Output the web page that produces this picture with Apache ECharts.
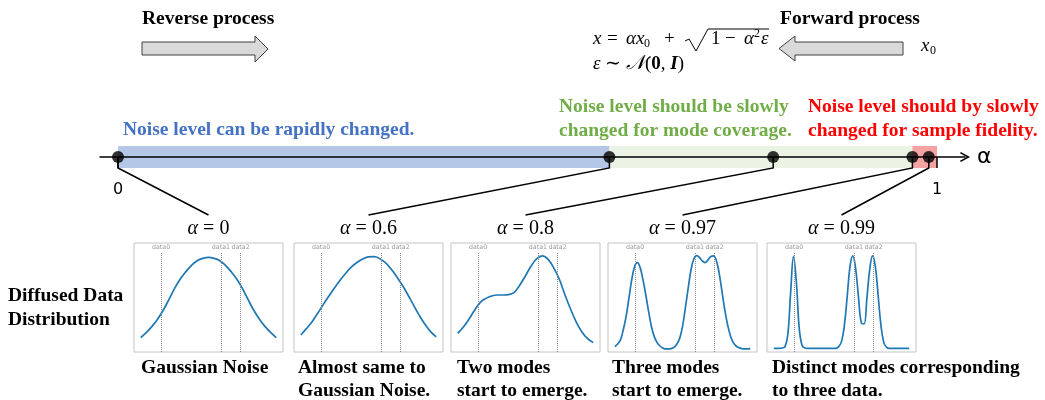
<!DOCTYPE html>
<html><head><meta charset="utf-8">
<script src="https://cdn.jsdelivr.net/npm/echarts@6/dist/echarts.min.js"></script>
<style>html,body{margin:0;padding:0;background:#fff}#c{width:1045px;height:400px}</style>
</head><body><div id="c"></div>
<script>
// ---------- data ----------
const alphas = [0, 0.6, 0.8, 0.97, 0.99];
const alphaTitles = ['0', '0.6', '0.8', '0.97', '0.99'];
const axisEnds = [0, 1];
const bandRanges = [[0, 0.6], [0.6, 0.97], [0.97, 1]];
const dataPoints = [-2.1, 0.55, 1.42];
const dataNames = ['data0', 'data1', 'data2'];
const xCoarse = [-3,-2.75,-2.5,-2.25,-2,-1.75,-1.5,-1.25,-1,-0.75,-0.5,-0.25,0,0.25,0.5,0.75,1,1.25,1.5,1.75,2,2.25,2.5,2.75,3];
const xFine = [-3,-2.875,-2.75,-2.625,-2.5,-2.375,-2.25,-2.125,-2,-1.875,-1.75,-1.625,-1.5,-1.375,-1.25,-1.125,-1,-0.875,-0.75,-0.625,-0.5,-0.375,-0.25,-0.125,0,0.125,0.25,0.375,0.5,0.625,0.75,0.875,1,1.125,1.25,1.375,1.5,1.625,1.75,1.875,2,2.125,2.25,2.375,2.5,2.625,2.75,2.875,3];
const densA0 = [13.2,18.0,23.5,30.3,38.5,48.3,58.4,67.0,73.7,79.5,83.8,85.9,86.8,85.9,83.8,79.5,73.7,67.0,58.4,48.3,38.5,30.3,23.5,18.0,13.2];
const densA06 = [15.6,21.4,27.8,35.5,43.7,51.4,59.0,66.0,72.5,78.0,82.3,85.3,87.2,87.5,85.6,82.0,76.1,69.1,61.2,52.3,42.8,33.6,25.4,18.7,13.8];
const densA08 = [17.1,22.9,30.3,38.5,45.6,49.2,51.4,52.3,52.3,52.6,54.7,61.5,70.0,78.9,85.6,88.1,85.0,77.2,66.7,52.3,39.2,27.5,18.4,12.2,8.6];
const densA097 = [4.9,7.3,11.0,20.2,32.4,49.2,66.1,78.3,82.0,77.4,66.1,52.3,37.0,23.2,14.1,8.6,5.5,3.7,2.8,2.8,3.1,4.3,7.3,12.5,23.2,40.1,58.4,75.2,85.3,88.4,86.9,83.5,82.0,84.4,87.5,88.1,83.8,72.2,55.4,38.5,24.8,14.7,8.6,5.5,4.0,3.1,2.8,2.8,3.1];
const densA099 = [3.4,3.4,3.4,3.7,4.9,16.5,55.4,87.8,64.5,22.3,6.1,3.7,3.4,3.4,3.4,3.4,3.4,3.4,3.4,3.4,3.4,3.4,3.4,4.9,9.5,23.9,50.2,78.3,88.1,76.8,50.8,26.9,25.7,49.2,75.8,88.1,78.3,51.4,23.9,8.6,4.3,3.4,3.4,3.4,3.4,3.4,3.4,3.4,3.4];
const captions = ['Gaussian Noise', 'Almost same to\nGaussian Noise.', 'Two modes\nstart to emerge.', 'Three modes\nstart to emerge.', 'Distinct modes corresponding\nto three data.'];
const blueNote = 'Noise level can be rapidly changed.';
const greenNote = 'Noise level should be slowly\nchanged for mode coverage.';
const redNote = 'Noise level should by slowly\nchanged for sample fidelity.';

// ---------- layout / style ----------
const curveX = [xCoarse, xCoarse, xCoarse, xFine, xFine];
const curveY = [densA0, densA06, densA08, densA097, densA099];
const boxLeft = [134, 294, 451, 608, 767];
const boxW = 149, boxTop = 243, boxH = 109;
const capLeft = [141, 298, 457, 612, 772];
const bandColors = ['#b4c7e7', '#ebf3e4', '#f4a3a3'];
const serif = '"Liberation Serif","Times New Roman",serif';
const sans = '"DejaVu Sans",sans-serif';

const chart = echarts.init(document.getElementById('c'));

const grid = [{left: 100, top: 146, width: 865, height: 22}];
const xAxis = [{
  gridIndex: 0, type: 'value', min: -0.022, max: 1.0342, z: 3,
  axisLine: {onZero: true, lineStyle: {color: '#000', width: 1.5},
    symbol: ['none', 'path://M5,0 L10,9 L8.6,9.8 L5,3.2 L1.4,9.8 L0,9 Z'], symbolSize: [11, 10]},
  axisTick: {show: true, customValues: axisEnds, length: 11, lineStyle: {color: '#000', width: 1.5}},
  axisLabel: {show: true, customValues: axisEnds, margin: 14, fontSize: 16, color: '#000', fontFamily: sans},
  splitLine: {show: false},
  name: 'α', nameLocation: 'end', nameGap: 12,
  nameTextStyle: {fontSize: 22, color: '#000', fontFamily: sans}
}];
const yAxis = [{gridIndex: 0, type: 'value', min: -1, max: 1, show: false}];
const series = [
  {type: 'scatter', xAxisIndex: 0, yAxisIndex: 0, data: [], z: 1, silent: true,
   markArea: {silent: true, data: bandRanges.map((b, i) => [
     {xAxis: b[0], yAxis: -1, itemStyle: {color: bandColors[i]}}, {xAxis: b[1], yAxis: 1}])}},
  {type: 'scatter', xAxisIndex: 0, yAxisIndex: 0, z: 5, silent: true,
   data: alphas.map(a => [a, 0]), symbolSize: 12, itemStyle: {color: '#000'}}
];
for (let i = 0; i < 5; i++) {
  const g = i + 1;
  grid.push({left: boxLeft[i], top: boxTop, width: boxW, height: boxH, show: true,
    borderColor: '#c4c4c4', borderWidth: 1, backgroundColor: '#fff'});
  xAxis.push({gridIndex: g, type: 'value', min: -3.3, max: 3.3, show: false});
  yAxis.push({gridIndex: g, type: 'value', min: 0, max: 100, show: false});
  series.push({
    type: 'line', xAxisIndex: g, yAxisIndex: g, silent: true,
    data: curveX[i].map((x, j) => [x, curveY[i][j]]),
    smooth: 0.4, symbol: 'none', lineStyle: {color: '#1f77b4', width: 1.7},
    markLine: {
      silent: true, symbol: ['none', 'none'], animation: false,
      lineStyle: {type: 'dotted', color: '#8a8a8a', width: 1},
      label: {show: true, position: 'end', formatter: '{b}', fontSize: 6.3, color: '#999', fontFamily: sans, distance: 2},
      data: dataPoints.map((v, k) => [{coord: [v, 0], name: dataNames[k]}, {coord: [v, 91]}])
    }
  });
}

chart.setOption({animation: false, grid, xAxis, yAxis, series});

// ---------- graphic (text, arrows, connectors) ----------
const els = [];
function txt(x, y, text, opt) {
  els.push({type: 'text', x, y, silent: true, style: Object.assign({text, fill: '#000',
    font: 'bold 19.5px ' + serif, textAlign: 'left', textVerticalAlign: 'middle', lineHeight: 23}, opt || {})});
}
txt(142, 19, 'Reverse process');
txt(780, 19, 'Forward process');
txt(123, 130, blueNote, {fill: '#4472c4'});
txt(559, 119, greenNote, {fill: '#70ad47', lineHeight: 24});
txt(808, 119, redNote, {fill: '#ff0000', lineHeight: 24});
txt(8, 308, 'Diffused Data\nDistribution', {lineHeight: 24});
for (let i = 0; i < 5; i++) {
  txt(capLeft[i], captions[i].indexOf('\n') >= 0 ? 379 : 368, captions[i], {lineHeight: 23});
}
// formula pieces
function mt(x, y, text, style) {
  els.push({type: 'text', x, y, silent: true, style: {text, fill: '#000', textAlign: 'left',
    textVerticalAlign: 'middle', font: (style || '') + ' 19px ' + serif}});
}
function ms(x, y, text) {
  els.push({type: 'text', x, y, silent: true, style: {text, fill: '#000', textAlign: 'left',
    textVerticalAlign: 'middle', font: '12px ' + serif}});
}
const fy = 39;
mt(593, fy, 'x', 'italic');
mt(607, fy, '=');
mt(626, fy, 'αx', 'italic');
ms(644, fy + 5, '0');
mt(664, fy, '+');
els.push({type: 'polyline', silent: true, shape: {points: [[685, 41], [689, 39], [696, 51], [708, 29], [769, 29]]},
  style: {stroke: '#000', lineWidth: 1, fill: null}});
mt(711, fy, '1');
mt(725, fy, '−');
mt(744, fy, 'α', 'italic');
ms(754, fy - 5, '2');
mt(761, fy, 'ε', 'italic');
const mrich = {i: {fontStyle: 'italic', fontFamily: serif, fontSize: 19},
               n: {fontFamily: serif, fontSize: 19},
               b: {fontWeight: 'bold', fontFamily: serif, fontSize: 19},
               bi: {fontWeight: 'bold', fontStyle: 'italic', fontFamily: serif, fontSize: 19},
               c: {fontStyle: 'italic', fontFamily: serif, fontSize: 20}};
els.push({type: 'text', x: 593, y: 64, silent: true, style: {
  text: '{i|ε}{n| ∼ }{c|𝒩}{n|(}{b|0}{n|, }{bi|I}{n|)}', rich: mrich, fill: '#000',
  textVerticalAlign: 'middle', font: '19px ' + serif}});
mt(921, 46, 'x', 'italic');
ms(930, 51, '0');
// block arrows
els.push({type: 'polygon', silent: true, shape: {points: [[142,42],[255,42],[255,36],[268,49],[255,62],[255,55],[142,55]]},
  style: {fill: '#d9d9d9', stroke: '#404040', lineWidth: 1}});
els.push({type: 'polygon', silent: true, shape: {points: [[903,42],[795,42],[795,36],[779,48.5],[795,61],[795,55],[903,55]]},
  style: {fill: '#d9d9d9', stroke: '#404040', lineWidth: 1}});
// alpha titles and connectors
for (let i = 0; i < 5; i++) {
  const cx = boxLeft[i] + boxW / 2;
  els.push({type: 'text', x: cx, y: 229, silent: true, style: {
    text: '{i|α}{n| = ' + alphaTitles[i] + '}', rich: {i: {fontStyle: 'italic', fontFamily: serif, fontSize: 20},
      n: {fontFamily: serif, fontSize: 20}},
    fill: '#000', textAlign: 'center', textVerticalAlign: 'middle', font: '20px ' + serif}});
  const p = chart.convertToPixel({gridIndex: 0}, [alphas[i], 0]);
  els.push({type: 'polyline', silent: true, z: 10, shape: {points: [[p[0], p[1]], [p[0], p[1] + 11], [cx, 215]]},
    style: {stroke: '#000', lineWidth: 1.5, fill: null}});
}
chart.setOption({graphic: {elements: els}});
</script>
</body></html>
